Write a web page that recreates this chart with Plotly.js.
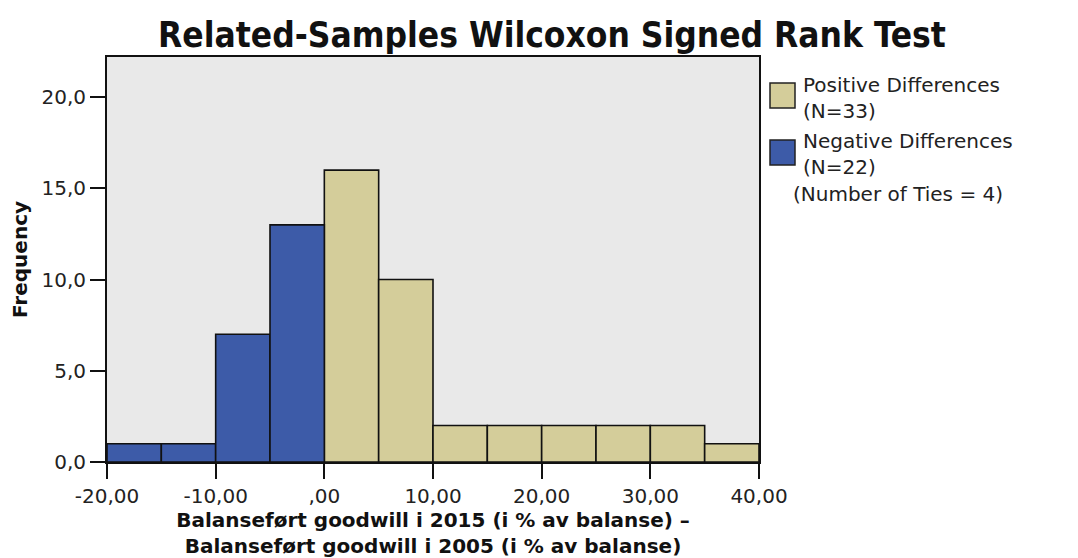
<!DOCTYPE html>
<html>
<head>
<meta charset="utf-8">
<script src="https://cdn.plot.ly/plotly-3.0.1.min.js"></script>
<style>
html,body{margin:0;padding:0;background:#fff;}
#chart{width:1078px;height:558px;}
</style>
</head>
<body>
<div id="chart"></div>
<script>
// Data (bin width 5)
const binWidth = 5;
const negBinCenters = [-17.5, -12.5, -7.5, -2.5];
const negFrequency = [1, 1, 7, 13];
const posBinCenters = [2.5, 7.5, 12.5, 17.5, 22.5, 27.5, 32.5, 37.5];
const posFrequency = [16, 10, 2, 2, 2, 2, 2, 1];
const xTickVals = [-20, -10, 0, 10, 20, 30, 40];
const xTickText = ["-20,00", "-10,00", ",00", "10,00", "20,00", "30,00", "40,00"];
const yTickVals = [0, 5, 10, 15, 20];
const yTickText = ["0,0", "5,0", "10,0", "15,0", "20,0"];
const posLabel = ["Positive Differences", "(N=33)"];
const negLabel = ["Negative Differences", "(N=22)"];
const tiesLabel = "(Number of Ties = 4)";

const tan = "#d4cd9a";
const blue = "#3d5ba8";
const tickFont = {family: "DejaVu Sans, Verdana, sans-serif", size: 20, color: "#222"};

const traces = [
  {type: "bar", name: posLabel.join(" "), x: posBinCenters, y: posFrequency,
   width: posBinCenters.map(() => binWidth),
   marker: {color: tan, line: {color: "#111", width: 1.6}}, showlegend: false, hoverinfo: "x+y"},
  {type: "bar", name: negLabel.join(" "), x: negBinCenters, y: negFrequency,
   width: negBinCenters.map(() => binWidth),
   marker: {color: blue, line: {color: "#111", width: 1.6}}, showlegend: false, hoverinfo: "x+y"}
];

const legFont = {family: "DejaVu Sans, Verdana, sans-serif", size: 20, color: "#222"};
function ann(text, x, y, xanchor) {
  return {text: text, xref: "paper", yref: "paper", x: x, y: y, xanchor: xanchor || "left",
          align: "left", yanchor: "middle", showarrow: false, font: legFont};
}
// paper coords helpers: plot area x 107..759, y 57..462
const L = 107, R = 759, T = 57, B = 462;
const px = v => (v - L) / (R - L);
const py = v => (B - v) / (B - T);

const layout = {
  width: 1078, height: 558,
  margin: {l: L, r: 1078 - R, t: T, b: 558 - B, pad: 0},
  paper_bgcolor: "#ffffff",
  plot_bgcolor: "#e9e9e9",
  barmode: "overlay",
  bargap: 0,
  showlegend: false,
  title: {text: "Related-Samples Wilcoxon Signed Rank Test",
          font: {family: "DejaVu Sans Condensed, Liberation Sans Narrow, Arial Narrow, sans-serif", size: 35, color: "#111", weight: "bold"},
          x: 552 / 1078, xref: "container", xanchor: "center", y: 1 - 35 / 558, yref: "container", yanchor: "middle"},
  xaxis: {range: [-20, 40], tickvals: xTickVals, ticktext: xTickText, tickfont: tickFont,
          showgrid: false, zeroline: false, showline: true, linecolor: "#111", linewidth: 2, mirror: true,
          ticks: "outside", ticklen: 15, tickwidth: 2, tickcolor: "#111",
          title: {text: "<b>Balanseført goodwill i 2015 (i % av balanse) –<br>Balanseført goodwill i 2005 (i % av balanse)</b>",
                  font: {family: "DejaVu Sans, Verdana, sans-serif", size: 20, color: "#111"}, standoff: 9}},
  yaxis: {range: [0, 22.2], tickvals: yTickVals, ticktext: yTickText, tickfont: tickFont,
          showgrid: false, zeroline: false, showline: true, linecolor: "#111", linewidth: 2, mirror: true,
          ticks: "outside", ticklen: 15, tickwidth: 2, tickcolor: "#111",
          title: {text: "<b>Frequency</b>", font: {family: "DejaVu Sans, Verdana, sans-serif", size: 20, color: "#111"}, standoff: 8}},
  shapes: [
    {type: "rect", xref: "paper", yref: "paper", x0: px(770), x1: px(795), y0: py(108), y1: py(83),
     fillcolor: tan, line: {color: "#222", width: 1.5}},
    {type: "rect", xref: "paper", yref: "paper", x0: px(770), x1: px(795), y0: py(165), y1: py(140),
     fillcolor: blue, line: {color: "#222", width: 1.5}}
  ],
  annotations: [
    ann(posLabel.join("<br>"), px(801), py(98)),
    ann(negLabel.join("<br>"), px(801), py(154)),
    ann(tiesLabel, px(791), py(194))
  ]
};

Plotly.newPlot("chart", traces, layout, {displayModeBar: false, staticPlot: true});
</script>
</body>
</html>
